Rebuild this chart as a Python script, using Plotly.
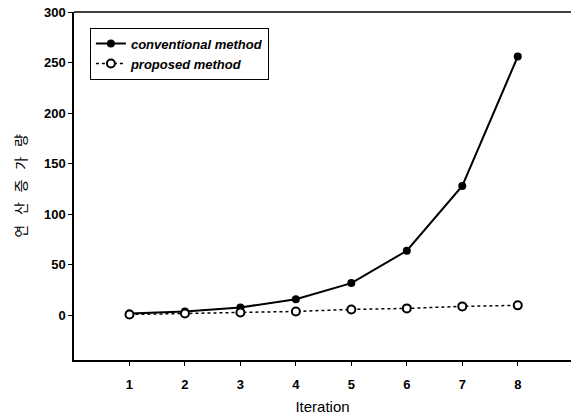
import plotly.graph_objects as go

iterations = [1, 2, 3, 4, 5, 6, 7, 8]
conventional = [2, 4, 8, 16, 32, 64, 128, 256]
proposed = [1, 2, 3, 4, 6, 7, 9, 10]
y_ticks = [0, 50, 100, 150, 200, 250, 300]

fig = go.Figure()
fig.add_trace(go.Scatter(
    x=iterations, y=conventional, name="conventional method",
    mode="lines+markers",
    line=dict(color="black", width=2),
    marker=dict(symbol="circle", size=8, color="black"),
))
fig.add_trace(go.Scatter(
    x=iterations, y=proposed, name="proposed method",
    mode="lines+markers",
    line=dict(color="black", width=1.5, dash="dot"),
    marker=dict(symbol="circle", size=8, color="white",
                line=dict(color="black", width=2)),
))

axis_font = dict(family="Liberation Sans, Arial", size=13, color="black", weight="bold")
gap = "\u2002\u2009"

fig.update_layout(
    width=571, height=419,
    margin=dict(l=74, r=0, t=12, b=59),
    paper_bgcolor="white", plot_bgcolor="white",
    showlegend=True,
    legend=dict(
        x=0.032, y=0.955, xanchor="left", yanchor="top",
        bgcolor="white", bordercolor="black", borderwidth=1,
        font=dict(family="Liberation Sans, Arial", size=13, color="black",
                  style="italic", weight="bold"),
        tracegroupgap=0, itemwidth=30,
    ),
    xaxis=dict(
        range=[0, 8.96], tickvals=iterations, ticktext=[str(i) for i in iterations],
        showgrid=False, zeroline=False,
        showline=True, linecolor="black", linewidth=1.5, mirror=False,
        ticks="outside", ticklen=4, tickwidth=1.2, tickcolor="black",
        ticklabelstandoff=8,
        tickfont=axis_font,
        title=dict(text="Iteration", font=dict(family="Liberation Sans, Arial", size=15, color="black"), standoff=10),
    ),
    yaxis=dict(
        range=[-44, 300], tickvals=y_ticks,
        showgrid=False, zeroline=False,
        showline=True, linecolor="black", linewidth=1.5,
        ticks="outside", ticklen=4, tickwidth=1.2, tickcolor="black",
        tickfont=axis_font,
        title=dict(text=gap.join("연산증가량"),
                   font=dict(family="Noto Sans CJK KR", size=14, color="black"), standoff=14),
    ),
)
# top border of the plotting area
fig.add_shape(type="line", xref="paper", yref="paper", x0=0, x1=1, y0=1, y1=1,
              line=dict(color="black", width=1.5))

fig.write_html("out.html")
